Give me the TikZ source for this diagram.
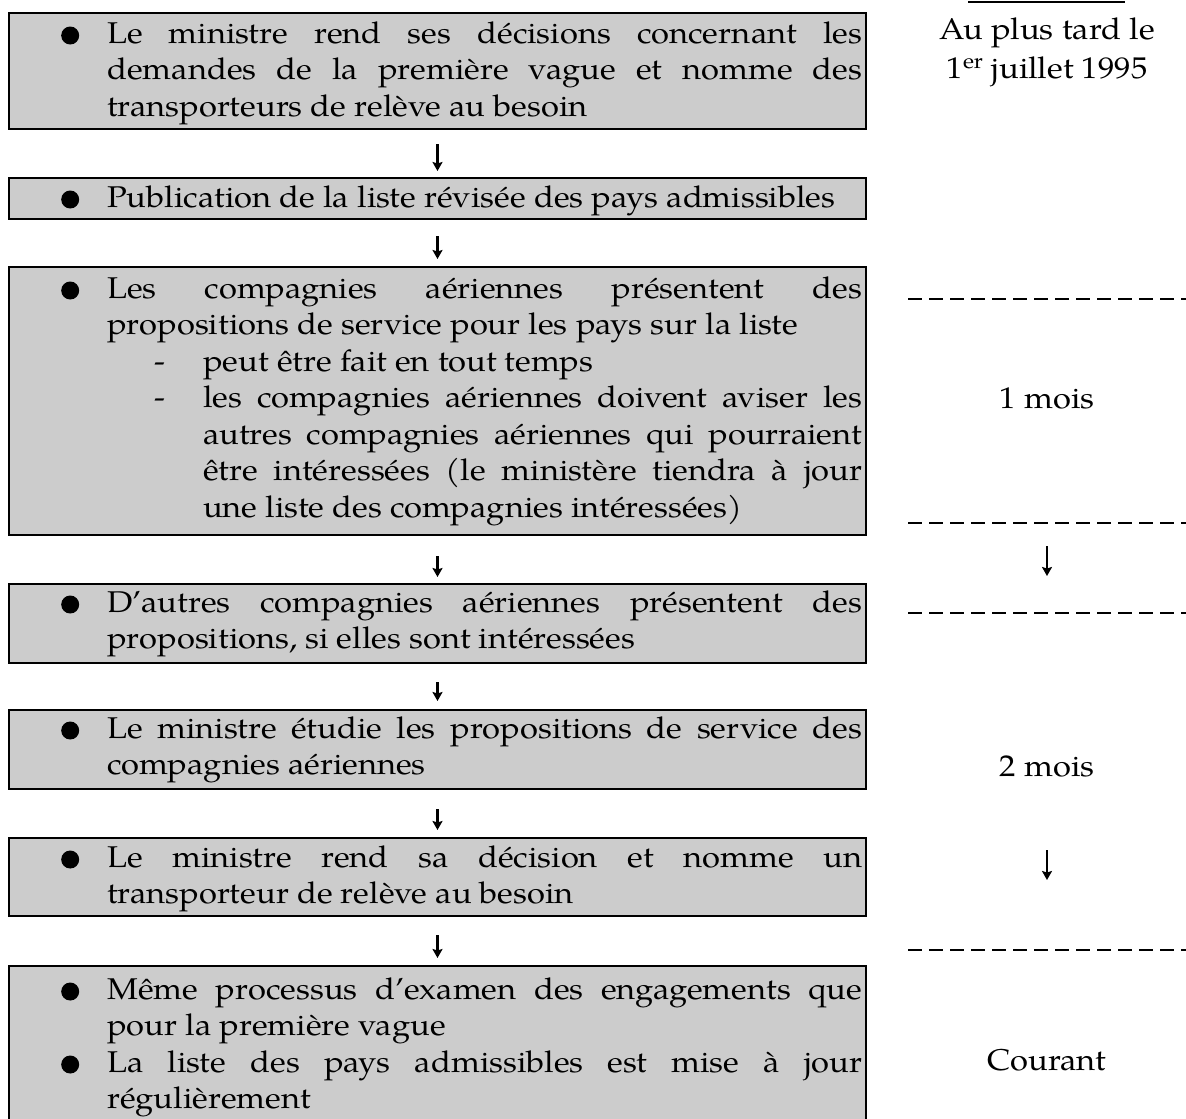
\documentclass[tikz,border=0pt]{standalone}
\usepackage{fontspec}
\setmainfont{texgyrepagella-regular.otf}[FakeStretch=1.09]
\usetikzlibrary{arrows.meta}
\definecolor{boxgray}{RGB}{204,204,204}
\newcommand\bul{\leftskip=99pt\rightskip=3pt\parindent=0pt\noindent\llap{\tikz[baseline=0pt]\fill (0pt,7.5pt) circle (9pt);\hspace{28pt}}\ignorespaces}
\newcommand\subit{\leftskip=195pt\rightskip=3pt\parindent=0pt\noindent\llap{-\hspace{38pt}}\ignorespaces}
\tikzset{
  stepbox/.style={draw=black, line width=2pt, fill=boxgray, rectangle, inner sep=0pt, anchor=north west, minimum width=857pt},
  steptext/.style={anchor=base west, inner sep=0pt, text width=857pt, align=justify, font=\fontsize{30}{36.5}\selectfont},
  arr/.style={line width=2.4pt, -{Stealth[length=9pt,width=10pt,inset=1.5pt]}},
  dashsep/.style={line width=1.6pt, dash pattern=on 14pt off 7pt},
  side/.style={anchor=base, inner sep=0pt, font=\fontsize{30}{36.5}\selectfont}
}
\begin{document}
\begin{tikzpicture}[x=1pt,y=-1pt]
\useasboundingbox (0,0) rectangle (1186,1119);
\clip (0,0) rectangle (1186,1119);
% boxes
\node[stepbox, minimum height=116pt] (b1) at (8,12) {};
\node[stepbox, minimum height=41pt] (b2) at (8,177) {};
\node[stepbox, minimum height=268pt] (b3) at (8,266) {};
\node[stepbox, minimum height=79pt] (b4) at (8,583) {};
\node[stepbox, minimum height=79pt] (b5) at (8,709) {};
\node[stepbox, minimum height=78pt] (b6) at (8,837) {};
\node[stepbox, minimum height=180pt] (b7) at (8,965) {};
% texts
\node[steptext] (t1) at (8,43) {\bul Le ministre rend ses décisions concernant les\linebreak demandes de la première vague et nomme des\linebreak transporteurs de relève au besoin\par};
\node[steptext] (t2) at (8,207) {\bul Publication de la liste révisée des pays admissibles\par};
\node[steptext] (t3) at (8,298) {\bul Les compagnies aériennes présentent des\linebreak propositions de service pour les pays sur la liste\par
\subit peut être fait en tout temps\par
\subit les compagnies aériennes doivent aviser les\linebreak autres compagnies aériennes qui pourraient\linebreak être intéressées (le ministère tiendra à jour\linebreak une liste des compagnies intéressées)\par};
\node[steptext] (t4) at (8,612) {\bul D’autres compagnies aériennes présentent des\linebreak propositions, si elles sont intéressées\par};
\node[steptext] (t5) at (8,738) {\bul Le ministre étudie les propositions de service des\linebreak compagnies aériennes\par};
\node[steptext] (t6) at (8,867) {\bul Le ministre rend sa décision et nomme un\linebreak transporteur de relève au besoin\par};
\node[steptext] (t7) at (8,999) {\bul Même processus d’examen des engagements que\linebreak pour la première vague\par
\bul La liste des pays admissibles est mise à jour\linebreak régulièrement\par};
% arrows between boxes
\draw[arr] ([yshift=-14pt]b1.south) -- ([yshift=6pt]b2.north);
\draw[arr] ([yshift=-16pt]b2.south) -- ([yshift=7pt]b3.north);
\draw[arr] ([yshift=-20pt]b3.south) -- ([yshift=6pt]b4.north);
\draw[arr] ([yshift=-18pt]b4.south) -- ([yshift=8pt]b5.north);
\draw[arr] ([yshift=-19pt]b5.south) -- ([yshift=7pt]b6.north);
\draw[arr] ([yshift=-18pt]b6.south) -- ([yshift=7pt]b7.north);
% right column
\coordinate (tl1) at (968,2); \coordinate (tl2) at (1125,2);
\draw[line width=2pt] (tl1) -- (tl2);
\node[side] (r1) at (1047,39) {Au plus tard le};
\node[side] (r2) at (1047,78) {1\textsuperscript{er} juillet 1995};
\coordinate (d1a) at (908,299); \coordinate (d1b) at (1186,299);
\coordinate (d2a) at (908,523); \coordinate (d2b) at (1186,523);
\coordinate (d3a) at (908,613); \coordinate (d3b) at (1186,613);
\coordinate (d4a) at (908,950); \coordinate (d4b) at (1186,950);
\draw[dashsep] (d1a) -- (d1b);
\draw[dashsep] (d2a) -- (d2b);
\draw[dashsep] (d3a) -- (d3b);
\draw[dashsep] (d4a) -- (d4b);
\node[side] (r3) at (1047,408) {1 mois};
\node[side] (r4) at (1047,776) {2 mois};
\node[side] (r5) at (1047,1070) {Courant};
\coordinate (ra1) at (1047,546); \coordinate (ra2) at (1047,576);
\coordinate (rb1) at (1047,850); \coordinate (rb2) at (1047,880);
\draw[arr] (ra1) -- (ra2);
\draw[arr] (rb1) -- (rb2);
\end{tikzpicture}
\end{document}
